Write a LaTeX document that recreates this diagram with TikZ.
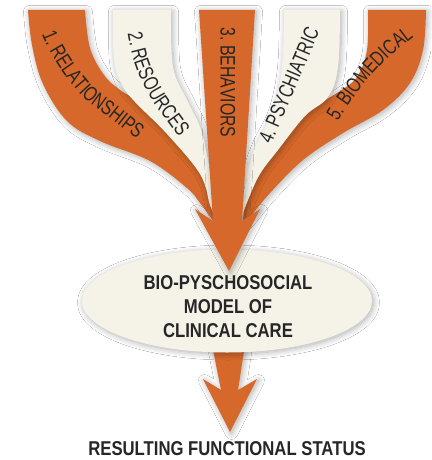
\documentclass[tikz,border=0pt]{standalone}
\usepackage{fontspec}
\usetikzlibrary{shapes.geometric,shadows.blur,decorations.text}
\newfontfamily\bandfont[FakeStretch=0.75]{Liberation Sans}
\newfontfamily\headfont[FakeStretch=0.835]{Liberation Sans}
\definecolor{rust}{HTML}{D5682A}
\definecolor{paper}{HTML}{F5F3E8}
\definecolor{ink}{HTML}{262626}
\tikzset{
  softshadow/.style={blur shadow={shadow xshift=1.5pt, shadow yshift=-1.5pt,
      shadow blur radius=6pt, shadow blur steps=12, shadow opacity=32}},
  rustband/.style={fill=rust, softshadow},
  paperband/.style={fill=paper, softshadow},
  bandtext/.style={decorate, decoration={text along path, text align=center,
      text={|\bandfont\fontsize{21}{21}\selectfont\color{ink}|#1}}},
  headtext/.style={font=\headfont\bfseries\fontsize{20}{24}\selectfont, text=ink},
}
\begin{document}
\begin{tikzpicture}[x=1pt,y=-1pt]
  \useasboundingbox (0,0) rectangle (431,460);
  \fill[white] (0,0) rectangle (431,460);

  % outcome arrow, partly under the model ellipse
  \fill[rustband] (212,345) -- (245,345) -- (238,390) -- (257,379) -- (230,432)
     -- (203,379) -- (221,390) -- cycle;

  % the model ellipse
  \node[ellipse, fill=paper, softshadow, minimum width=290pt, minimum height=103pt,
        inner sep=0pt] (model) at (227,301) {};
  \node[headtext, align=center] (modeltext) at (228,306.5)
     {BIO-PYSCHOSOCIAL\\MODEL OF\\CLINICAL CARE};

  % outer bands (back layer)
  \fill[rustband] (28,10) -- plot[smooth,tension=0.6] coordinates {(85,10) (90,48) (104,75)
     (120,90) (140,103) (175,135) (203,172) (212,205) (214,222)}
     -- plot[smooth,tension=0.6] coordinates {(214,222) (200,203) (187,188) (150,161)
     (100,141) (67,121) (43,84) (32,45) (28,10)} -- cycle;
  \fill[rustband] (368,10) -- plot[smooth,tension=0.6] coordinates {(426,10) (423,50) (410,83)
     (383,110) (343,133) (303,160) (270,193) (250,217) (243,224)}
     -- plot[smooth,tension=0.6] coordinates {(243,224) (245,205) (253,175) (268,150)
     (300,116) (337,93) (357,77) (367,50) (368,10)} -- cycle;

  % inner bands (middle layer)
  \fill[paperband] (113,10) -- plot[smooth,tension=0.6] coordinates {(171,10) (173,67) (187,100)
     (200,127) (208,160) (213,195) (216,218)}
     -- plot[smooth,tension=0.6] coordinates {(216,218) (210,205) (200,174) (167,134)
     (135,102) (122,85) (114,60) (113,10)} -- cycle;
  \fill[paperband] (284,10) -- plot[smooth,tension=0.6] coordinates {(340,10) (338,67) (328,97)
     (305,116) (278,150) (260,174) (248,200) (240,222)}
     -- plot[smooth,tension=0.6] coordinates {(240,222) (242,213) (247,173) (257,143)
     (273,110) (282,67) (284,10)} -- cycle;

  % central band ending in the arrowhead (front layer)
  \fill[rustband] (199,10) -- (255,10) -- (242,221) -- (260,209) -- (229,271)
     -- (195,209) -- (213,221) -- cycle;

  % band labels, set along the curve of each band
  \path[bandtext={1. RELATIONSHIPS}] plot[smooth] coordinates {(33,8) (39,27) (48,48)
     (64,74) (84,98) (110,118) (138,140) (160,155)};
  \path[bandtext={2. RESOURCES}] plot[smooth] coordinates {(125,5) (128,35) (136,68)
     (152,100) (170,125) (186,148) (194,162)};
  \path[bandtext={3. BEHAVIORS}] (220.5,5) -- (220.5,160);
  \path[bandtext={4. PSYCHIATRIC}] (264,162) -- (327,14);
  \path[bandtext={5. BIOMEDICAL}] plot[smooth] coordinates {(326,140) (334,128) (349,104)
     (369,78) (390,56) (415,36) (432,25)};

  % result caption
  \node[headtext, anchor=base] (status) at (227,455) {RESULTING FUNCTIONAL STATUS};
\end{tikzpicture}
\end{document}
